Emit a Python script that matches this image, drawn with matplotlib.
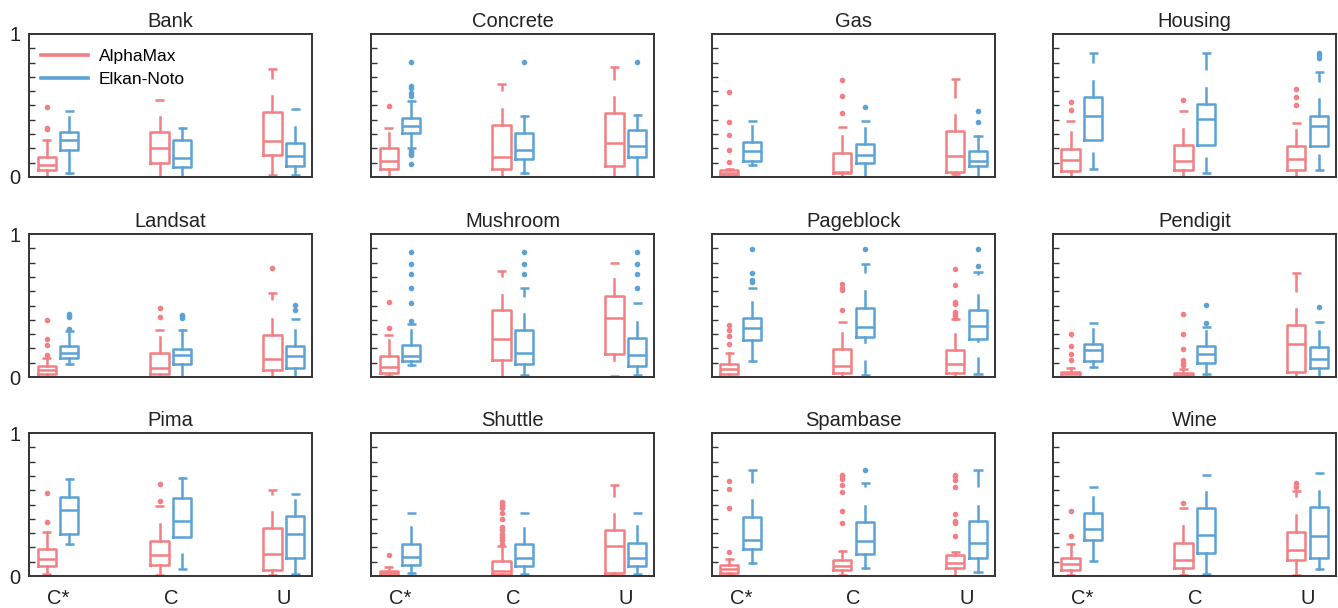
import matplotlib
matplotlib.use("Agg")
import matplotlib.pyplot as plt
from matplotlib.ticker import MultipleLocator
from matplotlib.lines import Line2D

plt.rcParams['font.family'] = ['Liberation Sans', 'DejaVu Sans']

# each box: [lo_cap, lo_stem, lo_whisker, q1, median, q3, hi_whisker, hi_stem, hi_cap], fliers
# groups in order C*, C, U
bank_a = [([0, 0, 0, .047, .086, .14, .256, .256, .256], [.335, .344, .486]),
          ([0, 0, 0, .098, .205, .312, .42, .54, .54], []),
          ([.016, .016, .016, .156, .253, .453, .563, .684, .753], [])]
bank_e = [([.028, .028, .028, .186, .26, .312, .42, .458, .458], []),
          ([0, 0, 0, .067, .133, .26, .344, .344, .344], []),
          ([.016, .016, .016, .074, .149, .237, .349, .477, .477], [])]

conc_a = [([0, 0, 0, .056, .114, .202, .307, .344, .344], [.498]),
          ([0, 0, 0, .056, .137, .365, .474, .598, .651], []),
          ([0, 0, 0, .074, .237, .447, .556, .679, .767], [])]
conc_e = [([.2, .2, .2, .307, .36, .412, .528, .528, .528],
           [.09, .155, .16, .17, .18, .563, .586, .621, .637, .802]),
          ([.028, .028, .028, .128, .19, .307, .428, .428, .428], [.802]),
          ([0, 0, 0, .14, .219, .33, .435, .435, .435], [.802])]

gas_a = [([0, 0, 0, .016, .03, .047, .056, .056, .056], [.105, .19, .295, .384, .591]),
         ([0, 0, 0, .028, .035, .167, .284, .353, .353], [.447, .563, .681]),
         ([.023, .023, .023, .035, .149, .319, .435, .551, .686], [])]
gas_e = [([.081, .081, .081, .114, .179, .244, .358, .395, .395], []),
         ([0, 0, 0, .098, .151, .23, .342, .395, .395], [.488]),
         ([0, 0, 0, .074, .109, .184, .288, .288, .288], [.384, .458])]

hous_a = [([0, 0, 0, .044, .119, .198, .312, .395, .395], [.47, .521]),
          ([0, 0, 0, .047, .114, .226, .335, .458, .458], [.535]),
          ([0, 0, 0, .047, .128, .219, .33, .377, .377], [.5, .558, .614])]
hous_e = [([.058, .172, .26, .26, .428, .558, .672, .795, .865], []),
          ([.028, .14, .226, .226, .407, .509, .621, .749, .865], []),
          ([.051, .163, .214, .214, .358, .428, .544, .667, .733], [.83, .85, .87])]

land_a = [([0, 0, 0, .023, .051, .079, .136, .136, .136], [.157, .227, .269, .397]),
          ([0, 0, 0, .019, .065, .168, .28, .327, .327], [.421, .484]),
          ([0, 0, 0, .051, .129, .297, .409, .537, .591], [.764])]
land_e = [([.093, .093, .093, .136, .171, .217, .322, .322, .322], [.334, .421, .43, .439]),
          ([0, 0, 0, .093, .152, .199, .327, .327, .327], [.416, .428, .437]),
          ([0, 0, 0, .065, .147, .217, .327, .409, .409], [.467, .507])]

mush_a = [([.01, .01, .01, .03, .07, .147, .257, .297, .297], [.343, .526]),
          ([0, 0, 0, .117, .269, .467, .577, .696, .741], []),
          ([.005, .005, .121, .159, .416, .568, .682, .794, .794], [])]
mush_e = [([.086, .086, .086, .11, .145, .222, .332, .374, .374], [.39, .519, .624, .717, .787, .876]),
          ([.012, .012, .012, .089, .168, .332, .444, .561, .624], [.717, .787, .876]),
          ([.012, .012, .012, .077, .152, .276, .386, .51, .519], [.624, .717, .787, .876])]

page_a = [([0, 0, 0, .019, .058, .093, .171, .171, .171], [.234, .285, .327, .362]),
          ([0, 0, 0, .03, .075, .199, .308, .386, .386], [.467, .607, .626, .65]),
          ([0, 0, 0, .03, .093, .192, .304, .409, .409],
           [.416, .43, .44, .455, .514, .526, .643, .752])]
page_e = [([.11, .11, .11, .262, .343, .416, .526, .626, .626], [.666, .678, .729, .893]),
          ([.012, .121, .245, .28, .35, .486, .603, .729, .79], [.893]),
          ([.023, .14, .255, .269, .357, .472, .577, .713, .731], [.778, .893])]

pend_a = [([0, 0, 0, 0, .019, .033, .063, .063, .063], [.121, .164, .217, .299]),
          ([0, 0, 0, 0, .012, .03, .058, .058, .058], [.082, .1, .121, .199, .299, .439]),
          ([0, 0, 0, .035, .229, .362, .474, .596, .724], [])]
pend_e = [([.07, .07, .07, .112, .187, .229, .339, .379, .379], []),
          ([.019, .019, .019, .1, .159, .215, .322, .35, .35], [.379, .502]),
          ([0, 0, 0, .063, .129, .21, .32, .386, .386], [.491])]

pima_a = [([.012, .012, .012, .07, .117, .187, .309, .309, .309], [.375, .578]),
          ([.005, .005, .005, .08, .145, .246, .361, .489, .489], [.525, .644]),
          ([.005, .005, .005, .04, .157, .333, .445, .567, .602], [])]
pima_e = [([.222, .222, .222, .297, .461, .55, .677, .677, .677], []),
          ([.047, .162, .274, .274, .386, .546, .684, .684, .684], []),
          ([.012, .012, .012, .126, .297, .422, .532, .571, .571], [])]

shut_a = [([0, 0, 0, .005, .021, .035, .063, .063, .063], [.145]),
          ([0, 0, 0, .016, .035, .105, .208, .208, .208],
           [.227, .25, .274, .297, .321, .344, .396, .438, .473, .496, .515]),
          ([.005, .005, .005, .023, .208, .321, .433, .555, .637], [])]
shut_e = [([.021, .021, .021, .08, .133, .227, .34, .443, .443], []),
          ([.012, .012, .012, .07, .126, .227, .337, .443, .443], []),
          ([.012, .012, .012, .07, .126, .234, .349, .443, .443], [])]

spam_a = [([.005, .005, .005, .023, .052, .08, .117, .117, .117], [.169, .473, .607, .665]),
          ([.005, .005, .005, .04, .07, .11, .176, .176, .176],
           [.372, .454, .59, .637, .677, .696, .707]),
          ([0, 0, 0, .059, .091, .145, .169, .169, .169],
           [.281, .368, .38, .386, .431, .621, .672, .696, .707])]
spam_e = [([.091, .091, .091, .192, .255, .415, .532, .649, .738], []),
          ([.059, .059, .059, .157, .244, .379, .489, .621, .653], [.738]),
          ([.028, .028, .028, .129, .234, .384, .489, .621, .738], [])]

wine_a = [([.005, .005, .005, .04, .087, .126, .222, .222, .222], [.281, .454]),
          ([.005, .005, .005, .056, .115, .234, .349, .473, .473], [.508]),
          ([.005, .005, .005, .115, .18, .309, .426, .55, .597], [.621, .649])]
wine_e = [([.103, .103, .103, .251, .326, .443, .555, .625, .625], []),
          ([.012, .012, .012, .164, .286, .478, .585, .707, .707], []),
          ([.052, .052, .052, .126, .281, .48, .597, .719, .719], [])]

titles = ["Bank", "Concrete", "Gas", "Housing",
          "Landsat", "Mushroom", "Pageblock", "Pendigit",
          "Pima", "Shuttle", "Spambase", "Wine"]
alpha_sets = [bank_a, conc_a, gas_a, hous_a, land_a, mush_a,
              page_a, pend_a, pima_a, shut_a, spam_a, wine_a]
elkan_sets = [bank_e, conc_e, gas_e, hous_e, land_e, mush_e,
              page_e, pend_e, pima_e, shut_e, spam_e, wine_e]
groups = ["C*", "C", "U"]
methods = ["AlphaMax", "Elkan-Noto"]

RED = "#F27F84"
BLUE = "#5CA2D5"
DARK = "#333333"
BOX_W = 0.16
CAP_W = 0.08
OFFSET = 0.1
LW = 1.8


def draw_box(ax, x, box, color):
    s, fl = box
    lo_cap, lo_stem, lo_wh, q1, med, q3, hi_wh, hi_stem, hi_cap = s
    line = dict(color=color, linewidth=LW)
    ax.bxp([dict(med=med, q1=q1, q3=q3, whislo=lo_wh, whishi=hi_wh, fliers=fl)],
           positions=[x], widths=BOX_W, showcaps=False, manage_ticks=False,
           boxprops=line, whiskerprops=line, medianprops=line,
           flierprops=dict(marker='o', markersize=4, markerfacecolor=color,
                           markeredgecolor='none'))
    ax.vlines([x, x], [lo_cap, hi_stem], [lo_stem, hi_cap], color=color, linewidth=LW)
    ax.hlines([lo_cap, hi_cap], x - CAP_W / 2, x + CAP_W / 2, color=color, linewidth=LW)


fig = plt.figure(figsize=(13.38, 6.08), dpi=100)
lefts = [0.0217, 0.2773, 0.5321, 0.787]
bottoms = [0.7089, 0.3799, 0.0526]
w, h = 0.2115, 0.2352

for i, name in enumerate(titles):
    r, c = divmod(i, 4)
    ax = fig.add_axes([lefts[c], bottoms[r], w, h])
    for g in range(3):
        draw_box(ax, g - OFFSET, alpha_sets[i][g], RED)
        draw_box(ax, g + OFFSET, elkan_sets[i][g], BLUE)
    ax.set_xlim(-0.255, 2.25)
    ax.set_ylim(0, 1)
    ax.set_title(name, fontsize=14.5, color="#222222", pad=5)
    ax.set_yticks([0, 1])
    ax.yaxis.set_minor_locator(MultipleLocator(0.1))
    ax.tick_params(axis='y', which='both', direction='in', left=True, right=False,
                   colors=DARK, labelcolor="#222222", labelsize=14.5, pad=6)
    ax.tick_params(axis='y', which='minor', length=4, width=1)
    ax.tick_params(axis='y', which='major', length=0)
    if c != 0:
        ax.set_yticklabels([])
    else:
        ax.set_yticklabels(["0", "1"])
    ax.set_xticks([0, 1, 2])
    ax.tick_params(axis='x', length=0, labelsize=14.5, labelcolor="#222222", pad=9)
    if r == 2:
        ax.set_xticklabels(groups)
    else:
        ax.set_xticklabels([])
    for sp in ax.spines.values():
        sp.set_color(DARK)
        sp.set_linewidth(1.4)
    if i == 0:
        handles = [Line2D([], [], color=RED, linewidth=2.6),
                   Line2D([], [], color=BLUE, linewidth=2.6)]
        ax.legend(handles, methods, loc='upper left', frameon=False, fontsize=12.5,
                  handlelength=2.7, handletextpad=0.6, borderaxespad=0.3,
                  labelspacing=0.45, bbox_to_anchor=(0.0, 0.98))

fig.savefig("out.png", dpi=100)
